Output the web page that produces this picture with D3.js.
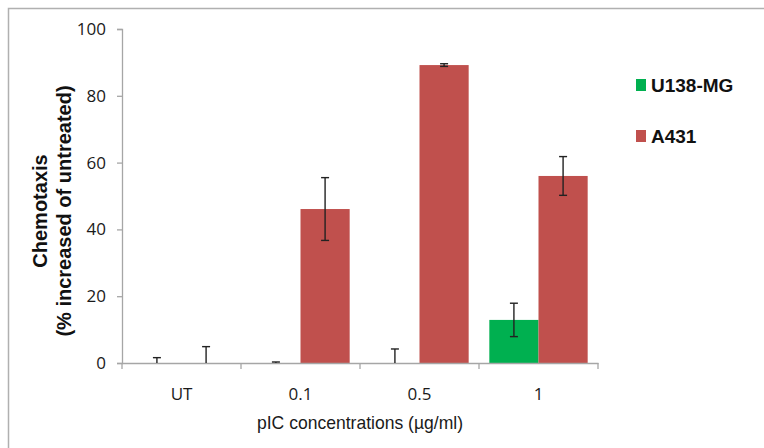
<!DOCTYPE html>
<html><head><meta charset="utf-8">
<script src="https://cdn.jsdelivr.net/npm/d3@7"></script>
<style>body{margin:0;background:#fff}svg{display:block}</style>
</head><body><svg id="c" width="764" height="448"></svg>
<script>
const categories = ["UT", "0.1", "0.5", "1"];
const seriesNames = ["U138-MG", "A431"];
const seriesColors = ["#00B050", "#C0504D"];
const u138Values = [0, 0, 0, 12.9];
const u138Errors = [1.6, 0.3, 4.2, 5.0];
const a431Values = [0, 46.1, 89.2, 56.0];
const a431Errors = [4.9, 9.4, 0.4, 5.8];
const yTicks = [0, 20, 40, 60, 80, 100];

const svg = d3.select("#c");
svg.append("rect").attr("x", 8.5).attr("y", 8.5).attr("width", 770).attr("height", 460)
  .attr("fill", "#fff").attr("stroke", "#b0b0b0").attr("stroke-width", 1.5);

const plotLeft = 122, plotRight = 598, plotTop = 29, plotBottom = 363;
const x = d3.scaleBand().domain(categories).range([plotLeft, plotRight]).paddingInner(0).paddingOuter(0);
const y = d3.scaleLinear().domain([0, 100]).range([plotBottom, plotTop]);
const xs = d3.scaleBand().domain(seriesNames).range([0, x.bandwidth()]).paddingInner(0).paddingOuter(0.21);

const values = [u138Values, a431Values];
const errors = [u138Errors, a431Errors];

// y axis
const yAxis = svg.append("g").attr("transform", `translate(${plotLeft},0)`)
  .call(d3.axisLeft(y).tickValues(yTicks).tickSize(5).tickPadding(11));
yAxis.select(".domain").attr("stroke", "#a6a6a6").attr("stroke-width", 1.3);
yAxis.selectAll(".tick line").attr("stroke", "#a6a6a6").attr("stroke-width", 1.3);
yAxis.selectAll("text").attr("font-family", "'Open Sans', sans-serif").attr("font-size", 17).attr("fill", "#1a1a1a");

// bars
seriesNames.forEach((s, si) => {
  svg.append("g").selectAll("rect").data(categories).join("rect")
    .attr("x", c => x(c) + xs(s))
    .attr("width", xs.bandwidth())
    .attr("y", (c, i) => y(values[si][i]))
    .attr("height", (c, i) => y(0) - y(values[si][i]))
    .attr("fill", seriesColors[si]);
});

// x axis
const xAxis = svg.append("g").attr("transform", `translate(0,${plotBottom})`)
  .call(d3.axisBottom(x).tickSize(0).tickPadding(25));
xAxis.select(".domain").attr("stroke", "#a6a6a6").attr("stroke-width", 1.3);
xAxis.selectAll("text").attr("font-family", "'Open Sans', sans-serif").attr("font-size", 17).attr("fill", "#1a1a1a");
const bounds = categories.map(c => x(c)).concat([x(categories[categories.length-1]) + x.bandwidth()]);
svg.append("g").selectAll("line").data(bounds).join("line")
  .attr("x1", d => d).attr("x2", d => d).attr("y1", plotBottom).attr("y2", plotBottom + 6)
  .attr("stroke", "#a6a6a6").attr("stroke-width", 1.3);

// error bars (plus only)
seriesNames.forEach((s, si) => {
  const g = svg.append("g").attr("stroke", "#222").attr("stroke-width", 1.4);
  categories.forEach((c, i) => {
    const cx = x(c) + xs(s) + xs.bandwidth() / 2;
    const v = values[si][i], e = errors[si][i];
    const lo = v > 1 ? v - e : v;
    const hi = v + e;
    g.append("line").attr("x1", cx).attr("x2", cx).attr("y1", y(lo)).attr("y2", y(hi));
    g.append("line").attr("x1", cx - 4).attr("x2", cx + 4).attr("y1", y(hi)).attr("y2", y(hi));
    if (v > 1) g.append("line").attr("x1", cx - 4).attr("x2", cx + 4).attr("y1", y(lo)).attr("y2", y(lo));
  });
});

// axis titles
const yt = svg.append("text").attr("transform", "translate(0,211) rotate(-90)")
  .attr("text-anchor", "middle").attr("font-family", "'Liberation Sans', Arial, sans-serif")
  .attr("font-weight", "bold").attr("font-size", 20).attr("fill", "#111");
yt.append("tspan").attr("x", 0).attr("y", 47).text("Chemotaxis");
yt.append("tspan").attr("x", 0).attr("y", 71).text("(% increased of untreated)");

svg.append("text").attr("x", 360).attr("y", 429).attr("text-anchor", "middle")
  .attr("font-family", "'Liberation Sans', Arial, sans-serif").attr("font-size", 19).attr("fill", "#1a1a1a")
  .attr("textLength", 206).attr("lengthAdjust", "spacingAndGlyphs")
  .text("pIC concentrations (µg/ml)");

// legend
const leg = svg.append("g");
seriesNames.forEach((s, i) => {
  const ly = 92 + i * 51;
  leg.append("rect").attr("x", 636).attr("y", ly - 13).attr("width", 10).attr("height", 12).attr("fill", seriesColors[i]);
  leg.append("text").attr("x", 651).attr("y", ly).attr("font-family", "'Liberation Sans', Arial, sans-serif")
    .attr("font-weight", "bold").attr("font-size", 19).attr("fill", "#111").text(s);
});
</script></body></html>
